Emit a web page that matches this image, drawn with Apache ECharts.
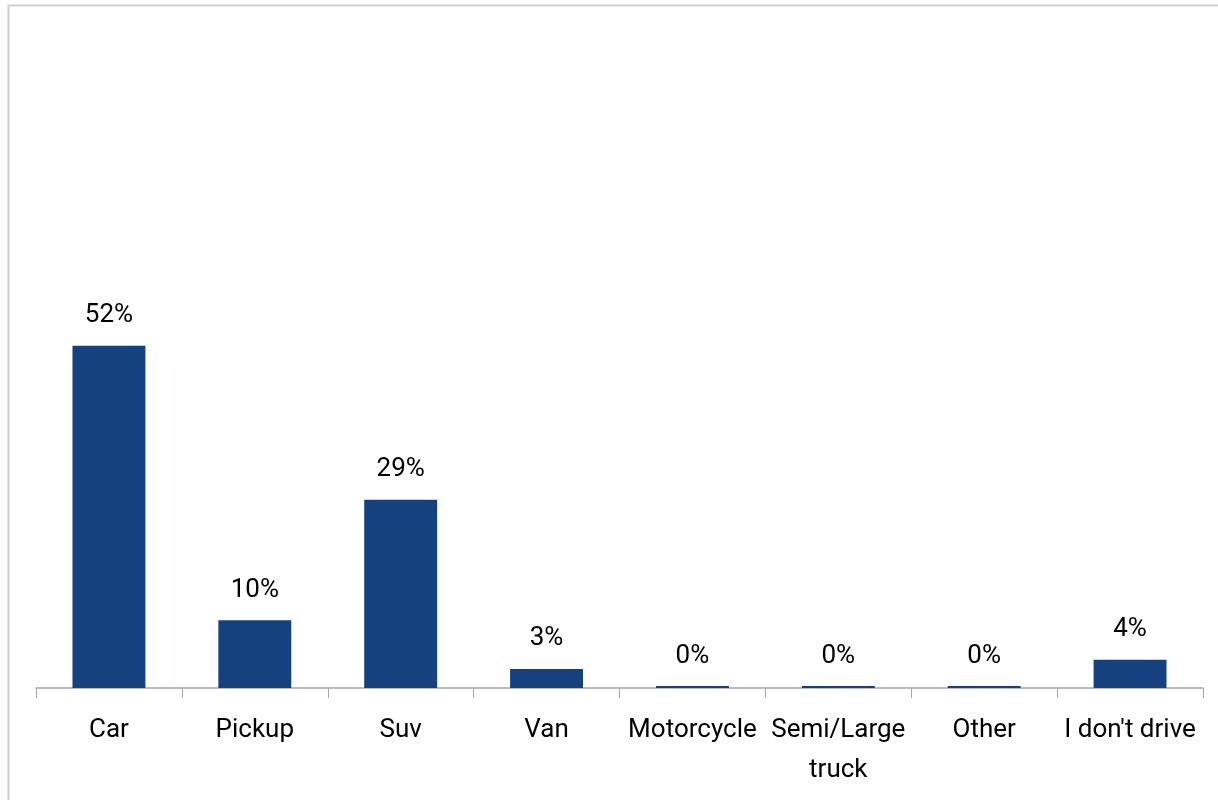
<!DOCTYPE html>
<html>
<head>
<meta charset="utf-8">
<script src="https://cdn.jsdelivr.net/npm/echarts@6/dist/echarts.min.js"></script>
<style>
  html, body { margin: 0; padding: 0; background: #fff; }
  #chart { width: 1218px; height: 800px; }
</style>
</head>
<body>
<div id="chart"></div>
<script>
const categories = ["Car", "Pickup", "Suv", "Van", "Motorcycle", "Semi/Large\ntruck", "Other", "I don't drive"];
const shares = [52, 10.3, 28.6, 2.9, 0.3, 0.3, 0.3, 4.3];

const myChart = echarts.init(document.getElementById("chart"));
const font = "Roboto, sans-serif";

const option = {
  animation: false,
  graphic: [
    {
      type: "rect",
      left: 6,
      top: 3,
      shape: { width: 1400, height: 1000 },
      style: { fill: "none", stroke: "#d0d0d0", lineWidth: 2 },
      silent: true
    }
  ],
  grid: { left: 36, right: 15, top: 30, bottom: 112 },
  xAxis: {
    type: "category",
    data: categories,
    axisLine: { lineStyle: { color: "#a6a6a6", width: 1.5 } },
    axisTick: { show: true, length: 10, lineStyle: { color: "#a6a6a6" } },
    axisLabel: {
      interval: 0,
      color: "#000",
      fontFamily: font,
      fontSize: 26,
      lineHeight: 40,
      margin: 22
    }
  },
  yAxis: {
    type: "value",
    min: 0,
    max: 100,
    show: false,
    splitLine: { show: false }
  },
  series: [
    {
      type: "bar",
      data: shares,
      barWidth: "50%",
      itemStyle: { color: "#15417e" },
      label: {
        show: true,
        position: "top",
        distance: 17,
        color: "#000",
        fontFamily: font,
        fontSize: 26,
        formatter: (p) => Math.round(p.value) + "%"
      }
    }
  ]
};
myChart.setOption(option);
</script>
</body>
</html>
